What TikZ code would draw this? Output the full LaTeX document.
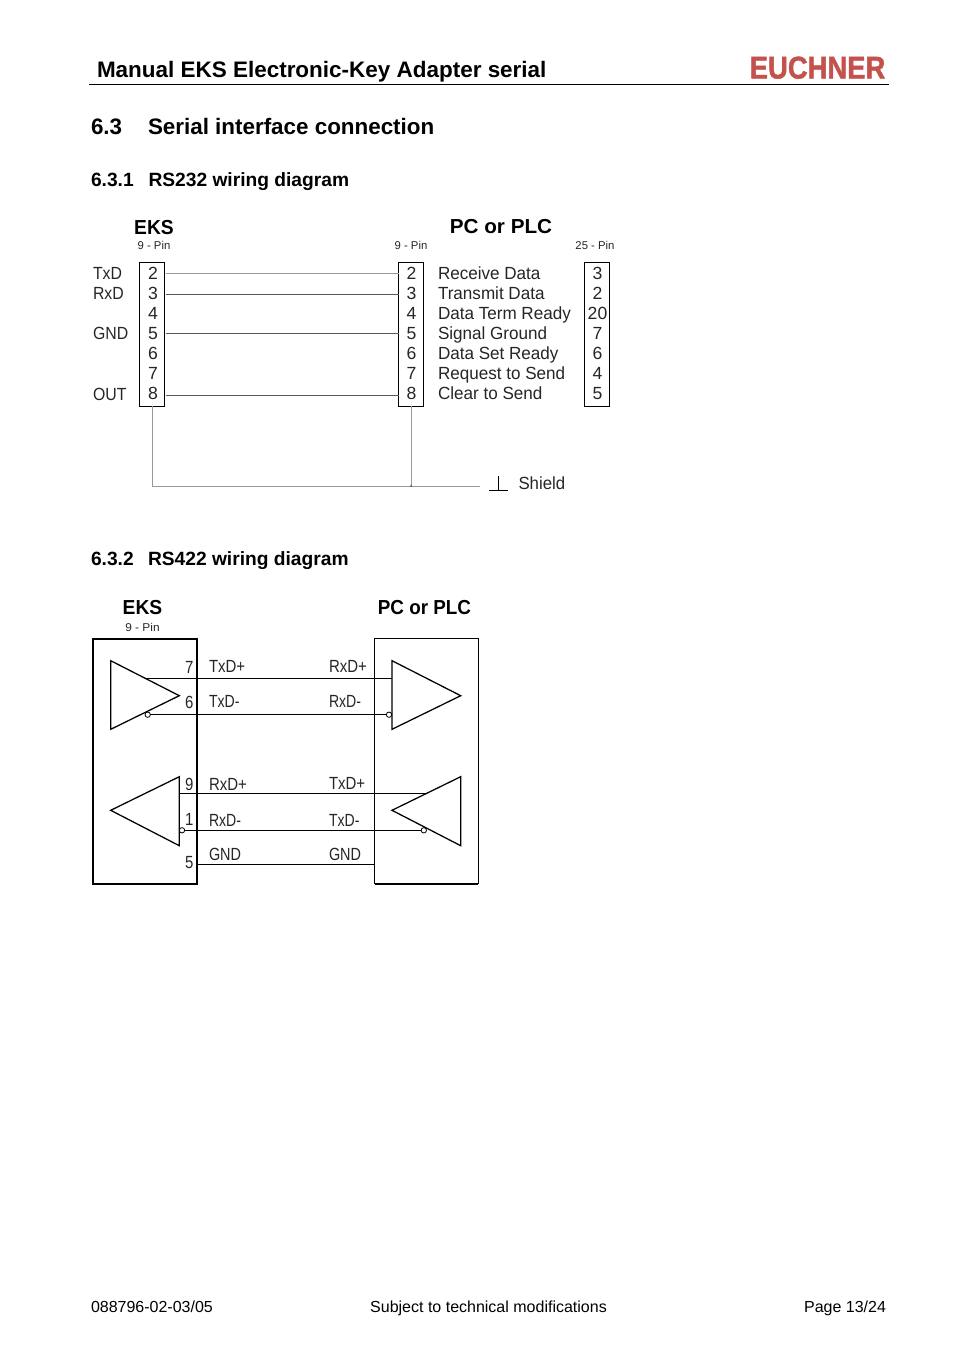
\documentclass[tikz,border=0pt]{standalone}
\usepackage{fontspec}
\setmainfont{Liberation Sans}
\newfontfamily\logofont{Liberation Sans}[FakeBold=1.6]
\tikzset{
  txt/.style={inner sep=0pt,outer sep=0pt,anchor=base west,text=black!85},
  ctr/.style={inner sep=0pt,outer sep=0pt,anchor=base,text=black!85},
  rgt/.style={inner sep=0pt,outer sep=0pt,anchor=base east,text=black!85},
  title/.style={txt,text=black,font=\bfseries\fontsize{16.8}{18}\selectfont},
  sub/.style={txt,text=black,font=\bfseries\fontsize{14.4}{16}\selectfont},
  foot/.style={txt,text=black,font=\fontsize{12}{14}\selectfont},
  head/.style={font=\bfseries\fontsize{15.2}{17}\selectfont,text=black},
  small/.style={font=\fontsize{8.5}{10}\selectfont},
  lab/.style={font=\fontsize{13.2}{15}\selectfont},
  cond/.style={font=\fontsize{13.2}{15}\selectfont},
  pinbox/.style={draw=black,line width=0.65pt,inner sep=0pt,outer sep=0pt,minimum width=18.75pt,minimum height=108pt},
  gbox/.style={draw=black,line width=1.25pt,inner sep=0pt,outer sep=0pt},
  wire/.style={line width=0.55pt,draw=black!65},
  wirel/.style={line width=0.55pt,draw=black!40},
  sig/.style={line width=0.95pt,draw=black},
  bubble/.style={circle,draw=black,fill=white,line width=0.6pt,minimum size=4pt,inner sep=0pt,outer sep=0pt},
  dot/.style={circle,fill=black!70,minimum size=1.5pt,inner sep=0pt,outer sep=0pt}
}
\newcommand{\sx}[2]{\scalebox{#1}[1]{#2}}
\begin{document}
\begin{tikzpicture}[x=0.75pt,y=-0.75pt]
\useasboundingbox (0,0) rectangle (954,1351);
\fill[white] (0,0) rectangle (954,1351);
% header
\node[title] (ttl) at (97,78) {\sx{1.003}{Manual EKS Electronic-Key Adapter serial}};
\coordinate (hl) at (89,84.5); \coordinate (hr) at (889,84.5);
\draw[line width=0.6pt] (hl) -- (hr);
\node[inner sep=0pt,anchor=base west,text={rgb,255:red,196;green,82;blue,76},font=\logofont\bfseries\fontsize{23.5}{25}\selectfont] (logo) at (749.5,78.5) {\sx{0.875}{EUCHNER}};
\node[title] (s63) at (91,135) {6.3};
\node[title] (s63t) at (148,135) {Serial interface connection};
\node[sub] (s631) at (91,187) {6.3.1};
\node[sub] (s631t) at (148.5,187) {RS232 wiring diagram};
\node[sub] (s632) at (91,565.5) {6.3.2};
\node[sub] (s632t) at (148,565.5) {RS422 wiring diagram};
% RS232 heads
\node[ctr,head] (h1) at (154,234.3) {\sx{.95}{EKS}};
\node[ctr,head] (h2) at (501,233.7) {\sx{1.02}{PC or PLC}};
\node[ctr,small] (p1) at (154,250) {9 - Pin};
\node[ctr,small] (p2) at (411,249.5) {9 - Pin};
\node[ctr,small] (p3) at (595,249.5) {25 - Pin};
% pin boxes
\node[pinbox] (ba) at (152,334) {};
\node[pinbox] (bb) at (411,334) {};
\node[pinbox] (bc) at (597,334) {};
\foreach \n/\y in {2/279.7,3/299.7,4/319.7,5/339.7,6/359.5,7/379.5,8/399.5}{
  \node[ctr,lab] (a\n) at (153,\y) {\n};
  \node[ctr,lab] (b\n) at (411.5,\y) {\n};
}
\foreach \n/\t/\y in {3/3/279.7,2/2/299.7,20/20/319.7,7/7/339.7,6/6/359.5,4/4/379.5,5/5/399.5}{
  \node[ctr,lab] (c\n) at (597.5,\y) {\t};
}
\foreach \n/\t/\y in {tx/TxD/280,rx/RxD/300,gn/GND/340,ou/OUT/400}{
  \node[txt,lab] (l\n) at (93,\y) {\sx{.9}{\t}};
}
\node[txt,lab] (r1) at (438,279.7) {\sx{.97}{Receive Data}};
\node[txt,lab] (r2) at (438,299.7) {\sx{.97}{Transmit Data}};
\node[txt,lab] (r3) at (438,319.7) {\sx{.97}{Data Term Ready}};
\node[txt,lab] (r4) at (438,339.7) {\sx{.97}{Signal Ground}};
\node[txt,lab] (r5) at (438,359.5) {\sx{.97}{Data Set Ready}};
\node[txt,lab] (r6) at (438,379.5) {\sx{.97}{Request to Send}};
\node[txt,lab] (r7) at (438,399.5) {\sx{.97}{Clear to Send}};
\node[txt,lab] (shl) at (518.5,489.7) {\sx{.955}{Shield}};
% wires
\coordinate (w2a) at (ba.east |- 0,273);   \coordinate (w2b) at (bb.west |- 0,273);
\coordinate (w3a) at (ba.east |- 0,294.3); \coordinate (w3b) at (bb.west |- 0,294.3);
\coordinate (w5a) at (ba.east |- 0,333.3); \coordinate (w5b) at (bb.west |- 0,333.3);
\coordinate (w8a) at (ba.east |- 0,395.3); \coordinate (w8b) at (bb.west |- 0,395.3);
\draw[wirel] ([xshift=0.75pt]w2a) -- (w2b);
\draw[wire] ([xshift=0.75pt]w3a) -- (w3b);
\draw[wire] ([xshift=0.75pt]w5a) -- (w5b);
\draw[wire] ([xshift=0.75pt]w8a) -- (w8b);
\coordinate (sl) at (ba.south |- 0,486); \coordinate (sm) at (bb.south |- 0,486); \coordinate (sr) at (480,486);
\draw[wirel] (ba.south) -- (sl) -- (sm);
\draw[wirel] (bb.south) -- (sm);
\draw[wirel] (sm) -- (sr);
\node[dot] (sj) at (sm) {};
\coordinate (g1) at (489,490.3); \coordinate (g2) at (507.7,490.3); \coordinate (g3) at (498.3,476); \coordinate (g4) at (498.3,490.3);
\draw[line width=0.5pt] (g1) -- (g2);
\draw[line width=0.5pt] (g3) -- (g4);
% RS422
\node[ctr,head] (h3) at (142.5,614.5) {\sx{.95}{EKS}};
\node[ctr,head] (h4) at (424.5,614.5) {\sx{.93}{PC or PLC}};
\node[ctr,small] (p4) at (142.5,631.5) {\sx{1.05}{9 - Pin}};
\node[gbox,minimum width=78.4pt,minimum height=183.75pt] (le) at (145,761.2) {};
\node[gbox,line width=0.6pt,minimum width=77.7pt,minimum height=183.75pt] (ri) at (426.5,761.2) {};
\draw[line width=1.25pt] (le.south west) -- (le.south east);
\draw[line width=1.25pt] (ri.south west) -- (ri.south east);
% triangles
\coordinate (t1a) at (110.7,660.7); \coordinate (t1b) at (110.7,729.3); \coordinate (t1c) at (179.3,695.7);
\coordinate (t2a) at (179.3,776.7); \coordinate (t2b) at (179.3,845.7); \coordinate (t2c) at (110.7,810.3);
\coordinate (t3a) at (392,660.7); \coordinate (t3b) at (392,729.3); \coordinate (t3c) at (460.7,695.7);
\coordinate (t4a) at (460.7,776.7); \coordinate (t4b) at (460.7,845.7); \coordinate (t4c) at (392,810.3);
\draw[sig,line join=miter] (t1a) -- (t1b) -- (t1c) -- cycle;
\draw[sig,line join=miter] (t2a) -- (t2b) -- (t2c) -- cycle;
\draw[sig,line join=miter] (t3a) -- (t3b) -- (t3c) -- cycle;
\draw[sig,line join=miter] (t4a) -- (t4b) -- (t4c) -- cycle;
% signal wires
\coordinate (x1) at (146,678.3); \coordinate (x1e) at (392,678.3);
\draw[sig] (x1) -- (x1e);
\node[bubble] (c1) at (147.7,714.7) {};
\node[bubble] (c2) at (389,714.7) {};
\draw[sig] (c1) -- (c2);
\coordinate (x3) at (179.3,793.7); \coordinate (x3e) at (425.5,793.7);
\draw[sig] (x3) -- (x3e);
\node[bubble] (c3) at (182,830.3) {};
\node[bubble] (c4) at (423.8,830.3) {};
\draw[sig] (c3) -- (c4);
\coordinate (x5) at (le.east |- 0,864.5); \coordinate (x5e) at (ri.west |- 0,864.5);
\draw[sig] (x5) -- (x5e);
% labels
\node[rgt,cond] (n7) at (193.5,673) {\sx{.85}{7}};
\node[rgt,cond] (n6) at (193.5,708.5) {\sx{.85}{6}};
\node[rgt,cond] (n9) at (193.5,790.5) {\sx{.85}{9}};
\node[rgt,cond] (n1) at (193.5,825.5) {\sx{.85}{1}};
\node[rgt,cond] (n5) at (193.5,868.5) {\sx{.85}{5}};
\node[txt,cond] (q1) at (209,672) {\sx{.85}{TxD+}};
\node[txt,cond] (q2) at (209,707.5) {\sx{.8}{TxD-}};
\node[txt,cond] (q3) at (209,790.5) {\sx{.85}{RxD+}};
\node[txt,cond] (q4) at (209,826.5) {\sx{.8}{RxD-}};
\node[txt,cond] (q5) at (209,860) {\sx{.82}{GND}};
\node[txt,cond] (q6) at (329,672) {\sx{.85}{RxD+}};
\node[txt,cond] (q7) at (329,707.5) {\sx{.8}{RxD-}};
\node[txt,cond] (q8) at (329,789.5) {\sx{.85}{TxD+}};
\node[txt,cond] (q9) at (329,826) {\sx{.8}{TxD-}};
\node[txt,cond] (q10) at (329,860) {\sx{.82}{GND}};
% footer
\node[foot] (f1) at (91,1312) {088796-02-03/05};
\node[foot,anchor=base] (f2) at (488.5,1312) {Subject to technical modifications};
\node[foot,anchor=base east] (f3) at (886,1312) {Page 13/24};
\end{tikzpicture}
\end{document}
